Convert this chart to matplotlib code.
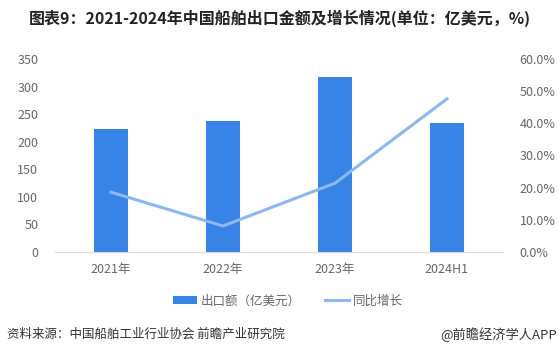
import matplotlib
matplotlib.use("Agg")
import matplotlib.pyplot as plt
from matplotlib.ticker import FuncFormatter

plt.rcParams['font.family'] = ['Noto Sans CJK SC', 'DejaVu Sans']

BAR = "#3884e6"
LINE = "#8cb7f2"
TICK = "#666666"

categories = ["2021年", "2022年", "2023年", "2024H1"]
export_value = [223, 238, 318, 233]
growth = [18.6, 8.1, 21.4, 47.6]

fig = plt.figure(figsize=(5.59, 3.55), dpi=100)
ax = fig.add_axes([0.0984, 0.290, 0.8014, 0.544])
ax2 = ax.twinx()

x = range(len(categories))
ax.bar(x, export_value, width=0.31, color=BAR, label="出口额（亿美元）", zorder=2)
ax2.plot(x, growth, color=LINE, linewidth=2.2, label="同比增长", zorder=3)

ax.set_xlim(-0.5, 3.5)
ax.set_ylim(0, 350)
ax.set_yticks(range(0, 351, 50))
ax2.set_ylim(0, 60)
ax2.set_yticks(range(0, 61, 10))
ax2.yaxis.set_major_formatter(FuncFormatter(lambda v, p: f"{v:.1f}%"))

ax.set_xticks(list(x))
ax.set_xticklabels(categories)

for a in (ax, ax2):
    for s in ["top", "right", "left", "bottom"]:
        a.spines[s].set_visible(False)
    a.tick_params(length=0, labelsize=9, colors=TICK)
ax.spines["bottom"].set_visible(True)
ax.spines["bottom"].set_color("#d9d9d9")
ax.tick_params(axis="y", pad=12)
ax.tick_params(axis="x", pad=8)
ax2.tick_params(axis="y", pad=12)

h1, l1 = ax.get_legend_handles_labels()
h2, l2 = ax2.get_legend_handles_labels()
fig.legend(h1 + h2, l1 + l2, loc="center", bbox_to_anchor=(0.515, 0.152), ncol=2,
           frameon=False, fontsize=9, handlelength=1.9, handleheight=0.6,
           columnspacing=2.0, handletextpad=0.3, labelcolor=TICK)

fig.text(0.5, 0.948, "图表9：2021-2024年中国船舶出口金额及增长情况(单位：亿美元，%)",
         ha="center", va="center", fontsize=11.5, fontweight="bold", color="#222222")
fig.text(0.012, 0.058, "资料来源：中国船舶工业行业协会 前瞻产业研究院",
         ha="left", va="center", fontsize=9, color="#333333")
fig.text(0.997, 0.058, "@前瞻经济学人APP",
         ha="right", va="center", fontsize=9.5, color="#333333")

plt.savefig("out.png", dpi=100, facecolor="white")
